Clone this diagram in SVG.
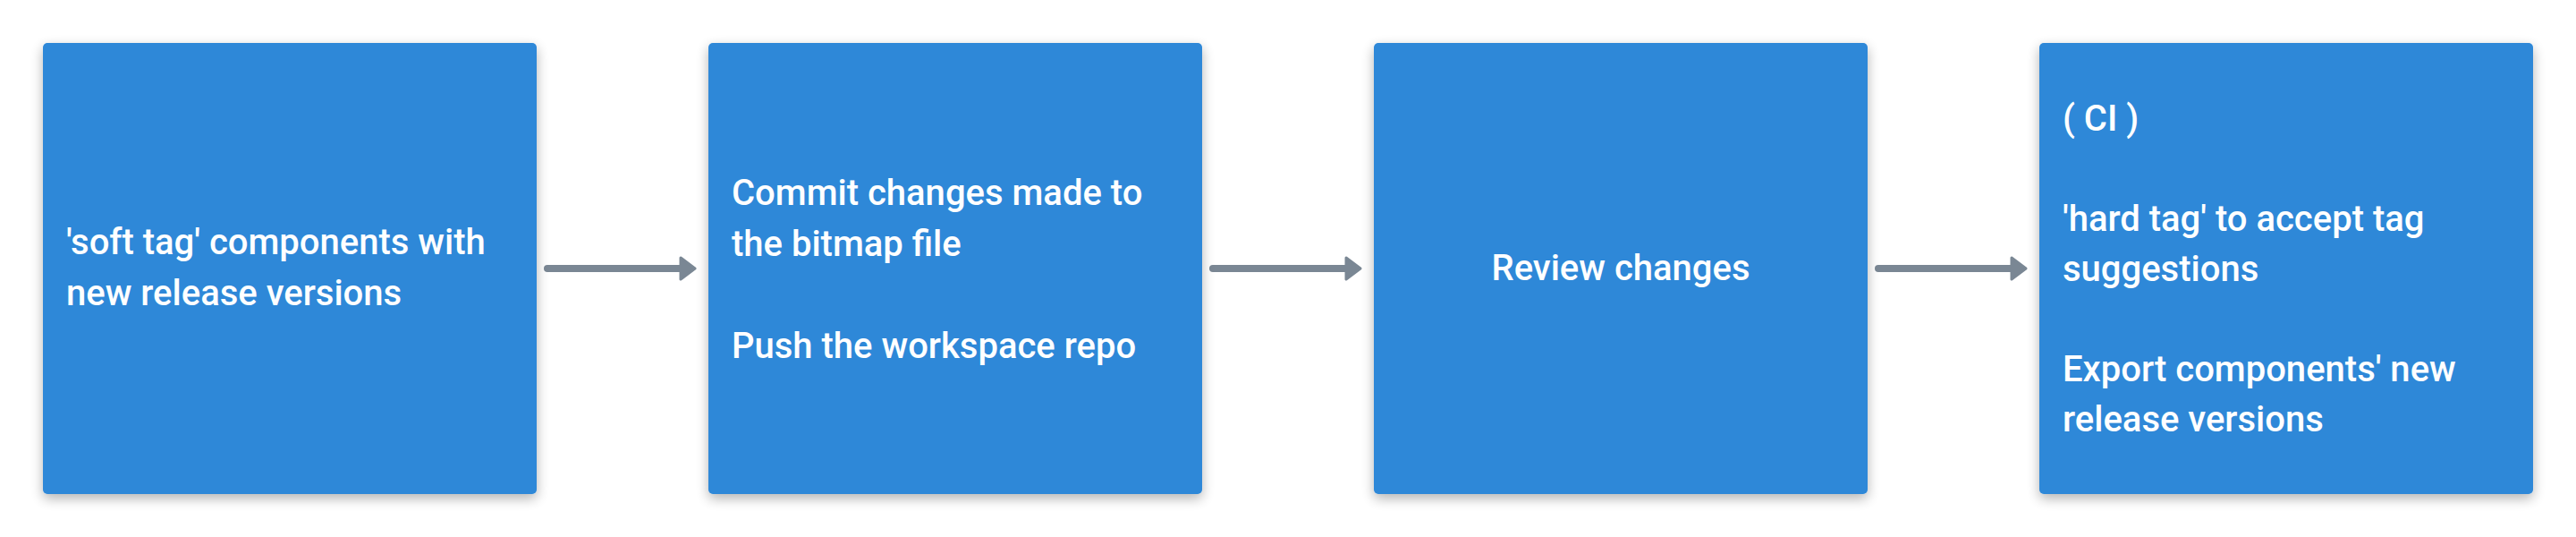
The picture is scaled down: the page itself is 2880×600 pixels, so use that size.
<svg xmlns="http://www.w3.org/2000/svg" width="2880" height="600" viewBox="0 0 2880 600">
<style>
.box{fill:#2e88d8}
.t{font-family:Roboto,"Liberation Sans",sans-serif;font-size:40px;font-weight:500;fill:#ffffff}
.ln{stroke:#7a8794;stroke-width:8;stroke-linecap:round;fill:none}
.hd{fill:#7a8794;stroke:#7a8794;stroke-width:3;stroke-linejoin:round}
</style>
<defs>
<filter id="sh" x="-10%" y="-10%" width="120%" height="125%">
<feGaussianBlur in="SourceAlpha" stdDeviation="7"/>
<feOffset dx="0" dy="5" result="b"/>
<feComponentTransfer><feFuncA type="linear" slope="0.3"/></feComponentTransfer>
<feMerge><feMergeNode/><feMergeNode in="SourceGraphic"/></feMerge>
</filter>
</defs>
<rect width="2880" height="600" fill="#ffffff"/>
<g id="connectors">
<line class="ln" x1="612" y1="300" x2="764" y2="300"/>
<polygon class="hd" points="761,288 777,300 761,312"/>
<line class="ln" x1="1356" y1="300" x2="1508" y2="300"/>
<polygon class="hd" points="1505,288 1521,300 1505,312"/>
<line class="ln" x1="2100" y1="300" x2="2252" y2="300"/>
<polygon class="hd" points="2249,288 2265,300 2249,312"/>
</g>
<g id="node1">
<rect class="box" x="48" y="48" width="552" height="504" rx="5" filter="url(#sh)"/>
<text class="t" x="74" y="284">'soft tag' components with</text>
<text class="t" x="74" y="341">new release versions</text>
</g>
<g id="node2">
<rect class="box" x="792" y="48" width="552" height="504" rx="5" filter="url(#sh)"/>
<text class="t" x="818" y="229">Commit changes made to</text>
<text class="t" x="818" y="286">the bitmap file</text>
<text class="t" x="818" y="400">Push the workspace repo</text>
</g>
<g id="node3">
<rect class="box" x="1536" y="48" width="552" height="504" rx="5" filter="url(#sh)"/>
<text class="t" x="1812" y="313" text-anchor="middle">Review changes</text>
</g>
<g id="node4">
<rect class="box" x="2280" y="48" width="552" height="504" rx="5" filter="url(#sh)"/>
<text class="t" x="2306" y="146">( CI )</text>
<text class="t" x="2306" y="258">'hard tag' to accept tag</text>
<text class="t" x="2306" y="314">suggestions</text>
<text class="t" x="2306" y="426">Export components' new</text>
<text class="t" x="2306" y="482">release versions</text>
</g>
</svg>
